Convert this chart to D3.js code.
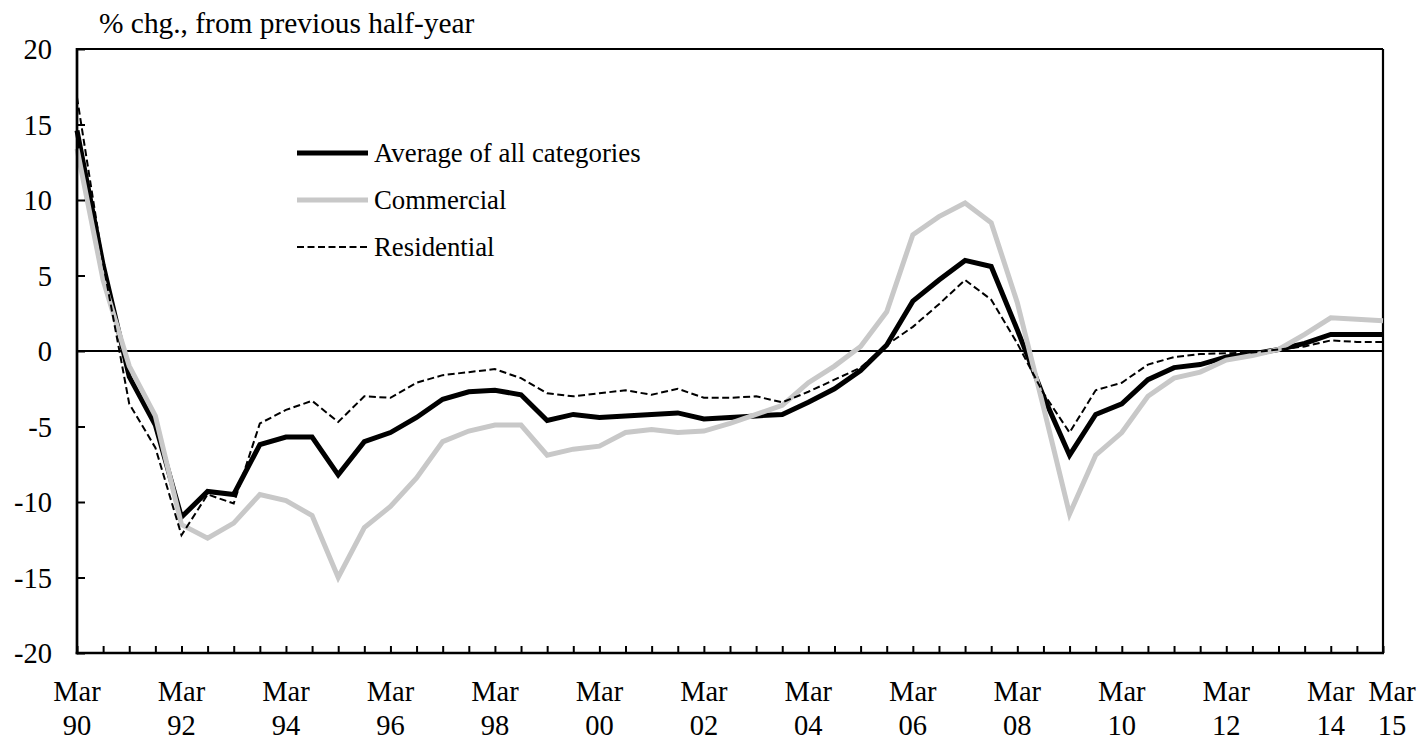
<!DOCTYPE html>
<html>
<head>
<meta charset="utf-8">
<script src="https://cdn.jsdelivr.net/npm/d3@7"></script>
<style>
  body { margin: 0; background: #fff; }
  text { font-family: "Liberation Serif", "Times New Roman", serif; fill: #000; }
</style>
</head>
<body>
<script>
var periods = ["Mar 90","Sep 90","Mar 91","Sep 91","Mar 92","Sep 92","Mar 93","Sep 93","Mar 94","Sep 94",
    "Mar 95","Sep 95","Mar 96","Sep 96","Mar 97","Sep 97","Mar 98","Sep 98","Mar 99","Sep 99",
    "Mar 00","Sep 00","Mar 01","Sep 01","Mar 02","Sep 02","Mar 03","Sep 03","Mar 04","Sep 04",
    "Mar 05","Sep 05","Mar 06","Sep 06","Mar 07","Sep 07","Mar 08","Sep 08","Mar 09","Sep 09",
    "Mar 10","Sep 10","Mar 11","Sep 11","Mar 12","Sep 12","Mar 13","Sep 13","Mar 14","Sep 14","Mar 15"];

var average = [14.6, 5.7, -1.7, -4.9, -11.0, -9.3, -9.5, -6.2, -5.7, -5.7,
    -8.2, -6.0, -5.4, -4.4, -3.2, -2.7, -2.6, -2.9, -4.6, -4.2,
    -4.4, -4.3, -4.2, -4.1, -4.5, -4.4, -4.3, -4.2, -3.4, -2.5,
    -1.3, 0.4, 3.3, 4.7, 6.0, 5.6, 1.4, -3.0, -6.9, -4.2,
    -3.5, -1.9, -1.1, -0.9, -0.4, -0.2, 0.1, 0.5, 1.1, 1.1, 1.1];

var commercial = [13.4, 4.7, -1.0, -4.3, -11.5, -12.4, -11.4, -9.5, -9.9, -10.9,
    -15.0, -11.7, -10.3, -8.4, -6.0, -5.3, -4.9, -4.9, -6.9, -6.5,
    -6.3, -5.4, -5.2, -5.4, -5.3, -4.8, -4.2, -3.6, -2.1, -1.0,
    0.3, 2.6, 7.7, 8.9, 9.8, 8.5, 3.2, -3.7, -10.8, -6.9,
    -5.4, -3.0, -1.8, -1.4, -0.6, -0.3, 0.1, 1.1, 2.2, 2.1, 2.0];

var residential = [16.8, 5.8, -3.5, -6.4, -12.2, -9.5, -10.1, -4.8, -3.9, -3.3,
    -4.7, -3.0, -3.1, -2.1, -1.6, -1.4, -1.2, -1.8, -2.8, -3.0,
    -2.8, -2.6, -2.9, -2.5, -3.1, -3.1, -3.0, -3.4, -2.7, -1.9,
    -1.1, 0.4, 1.6, 3.1, 4.7, 3.4, 0.5, -2.8, -5.4, -2.6,
    -2.1, -0.9, -0.4, -0.2, -0.15, -0.1, 0.1, 0.3, 0.7, 0.6, 0.6];

var xTickLabels = ["Mar 90","Mar 92","Mar 94","Mar 96","Mar 98","Mar 00","Mar 02",
    "Mar 04","Mar 06","Mar 08","Mar 10","Mar 12","Mar 14","Mar 15"];
var yTicks = [-20, -15, -10, -5, 0, 5, 10, 15, 20];

var seriesNames = ["Average of all categories", "Commercial", "Residential"];

var width = 1419;
var height = 742;
var margin = {top: 49, right: 36, bottom: 89, left: 77};
var w = width - margin.left - margin.right;
var h = height - margin.top - margin.bottom;

var svg = d3.select("body")
    .append("svg")
    .attr("width", width)
    .attr("height", height);

var g = svg.append("g")
    .attr("transform", "translate(" + margin.left + ", " + margin.top + ")");

var x = d3.scalePoint()
    .domain(periods)
    .range([0, w]);

var y = d3.scaleLinear()
    .domain([-20, 20])
    .range([h, 0]);

// frame: thin top/right, heavier left/bottom
g.append("line").attr("x1", 0).attr("x2", w).attr("y1", 0).attr("y2", 0)
    .attr("stroke", "#000").attr("stroke-width", 2.2);
g.append("line").attr("x1", w).attr("x2", w).attr("y1", 0).attr("y2", h)
    .attr("stroke", "#000").attr("stroke-width", 2.2);

// zero line
g.append("line")
    .attr("x1", 0).attr("x2", w)
    .attr("y1", y(0)).attr("y2", y(0))
    .attr("stroke", "#000").attr("stroke-width", 2);

var lines = [
    {name: seriesNames[0], values: average, color: "#000", width: 5, dash: null},
    {name: seriesNames[1], values: commercial, color: "#c8c8c8", width: 5, dash: null},
    {name: seriesNames[2], values: residential, color: "#000", width: 2, dash: "7,3.5"}
];

var line = d3.line()
    .x((d, i) => x(periods[i]))
    .y((d) => y(d));

lines.forEach((s) => {
    g.append("path")
        .datum(s.values)
        .attr("fill", "none")
        .attr("stroke", s.color)
        .attr("stroke-width", s.width)
        .attr("stroke-linejoin", "miter")
        .attr("stroke-dasharray", s.dash)
        .attr("d", line);
});

// y axis, ticks pointing inward
var leftAxis = d3.axisLeft(y)
    .tickValues(yTicks)
    .tickSize(-8)
    .tickPadding(25)
    .tickFormat((d) => String(d));
var ya = g.append("g").attr("class", "left axis").call(leftAxis);
ya.select(".domain").remove();
ya.selectAll("line").attr("stroke-width", 2);
ya.selectAll("text")
    .attr("font-size", "28.5px")
    .attr("dy", "0.34em")
    .style("font-family", "'Liberation Serif', 'Times New Roman', serif");

// x axis, ticks pointing up
var bottomAxis = d3.axisBottom(x)
    .tickSize(-7)
    .tickFormat("");
var xa = g.append("g")
    .attr("class", "bottom axis")
    .attr("transform", "translate(0, " + h + ")")
    .call(bottomAxis);
xa.select(".domain").remove();
xa.selectAll("line").attr("stroke-width", 2);

// axis lines
g.append("line").attr("x1", 0).attr("x2", 0).attr("y1", -1).attr("y2", h + 1.3)
    .attr("stroke", "#000").attr("stroke-width", 2.7);
g.append("line").attr("x1", -1.3).attr("x2", w + 1).attr("y1", h).attr("y2", h)
    .attr("stroke", "#000").attr("stroke-width", 2.7);

// two-line category labels
xTickLabels.forEach((lab, i) => {
    var parts = lab.split(" ");
    var shift = i === xTickLabels.length - 1 ? 9 : 0;
    var t = g.append("text")
        .attr("x", x(lab))
        .attr("dx", shift)
        .attr("y", h + 48)
        .attr("text-anchor", "middle")
        .attr("font-size", "28.5px");
    t.append("tspan").text(parts[0]);
    t.append("tspan")
        .attr("x", x(lab))
        .attr("dx", shift)
        .attr("dy", 34)
        .text(parts[1]);
});

// unit label
svg.append("text")
    .attr("x", 99)
    .attr("y", 33)
    .attr("font-size", "29.4px")
    .text("% chg., from previous half-year");

// legend
var legend = svg.append("g").attr("transform", "translate(297, 153)");
lines.forEach((s, i) => {
    var row = legend.append("g").attr("transform", "translate(0, " + (i * 47) + ")");
    row.append("line")
        .attr("x1", 0).attr("x2", 71)
        .attr("y1", 0).attr("y2", 0)
        .attr("stroke", s.color)
        .attr("stroke-width", s.width)
        .attr("stroke-dasharray", s.dash);
    row.append("text")
        .attr("x", 77)
        .attr("y", 0)
        .attr("dy", "0.33em")
        .attr("font-size", "26.8px")
        .text(s.name);
});
</script>
</body>
</html>
